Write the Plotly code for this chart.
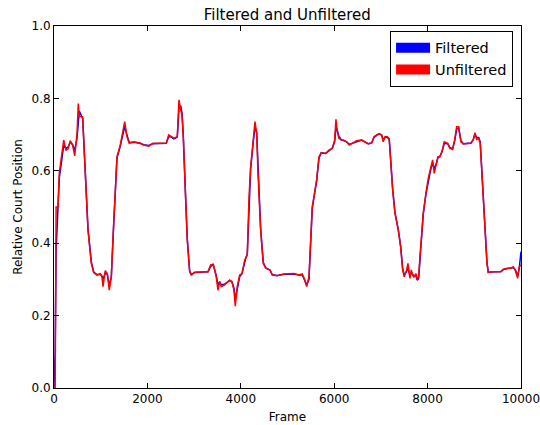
import plotly.graph_objects as go

frames = [0, 25, 45, 86, 113, 208, 257, 300, 349, 400, 443, 492, 520, 542, 614, 670, 728, 799, 850, 921,
          991, 1028, 1049, 1098, 1141, 1184, 1227, 1278, 1349, 1419, 1456, 1514, 1563, 1612, 1706, 1848,
          1920, 2028, 2120, 2404, 2456, 2511, 2569, 2640, 2676, 2713, 2741, 2768, 2811, 2854, 2905, 2940,
          3012, 3297, 3355, 3411, 3475, 3511, 3548, 3582, 3654, 3761, 3811, 3854, 3882, 3924, 3976, 4025,
          4083, 4104, 4139, 4175, 4211, 4267, 4303, 4340, 4368, 4425, 4481, 4533, 4625, 4674, 4781, 4924,
          5138, 5245, 5316, 5367, 5410, 5460, 5496, 5530, 5567, 5624, 5674, 5723, 5817, 5888, 5958, 6010,
          6038, 6066, 6102, 6151, 6194, 6267, 6322, 6408, 6481, 6588, 6659, 6729, 6802, 6851, 6909, 6965,
          7016, 7050, 7087, 7136, 7179, 7209, 7252, 7301, 7372, 7423, 7466, 7500, 7551, 7579, 7622, 7650,
          7680, 7708, 7750, 7778, 7808, 7836, 7872, 7907, 7964, 8014, 8065, 8108, 8142, 8193, 8221, 8264,
          8307, 8357, 8429, 8478, 8536, 8579, 8622, 8665, 8714, 8764, 8857, 8928, 8977, 9014, 9050, 9093,
          9127, 9163, 9200, 9234, 9271, 9299, 9356, 9463, 9570, 9620, 9714, 9784, 9834, 9877, 9928, 9962,
          10000]

unfiltered = [0.0, 0.0, 0.50, 0.50, 0.594, 0.685, 0.657, 0.66, 0.683, 0.67, 0.641, 0.70, 0.786, 0.75, 0.749,
              0.594, 0.436, 0.345, 0.319, 0.312, 0.316, 0.307, 0.28, 0.324, 0.316, 0.27, 0.307, 0.455,
              0.639, 0.671, 0.694, 0.736, 0.694, 0.676, 0.68, 0.676, 0.671, 0.668, 0.676, 0.676, 0.699,
              0.694, 0.69, 0.694, 0.796, 0.768, 0.755, 0.694, 0.547, 0.409, 0.321, 0.312, 0.32, 0.321,
              0.34, 0.342, 0.307, 0.27, 0.294, 0.28, 0.285, 0.298, 0.294, 0.27, 0.226, 0.28, 0.312, 0.316,
              0.353, 0.359, 0.368, 0.524, 0.611, 0.685, 0.736, 0.705, 0.593, 0.436, 0.344, 0.331, 0.326,
              0.312, 0.31, 0.315, 0.316, 0.312, 0.315, 0.30, 0.28, 0.307, 0.409, 0.501, 0.528, 0.575, 0.639,
              0.65, 0.648, 0.657, 0.662, 0.685, 0.742, 0.708, 0.69, 0.685, 0.685, 0.68, 0.671, 0.677, 0.683,
              0.685, 0.68, 0.674, 0.677, 0.694, 0.699, 0.703, 0.699, 0.68, 0.694, 0.694, 0.685, 0.621,
              0.547, 0.483, 0.436, 0.39, 0.326, 0.307, 0.326, 0.344, 0.303, 0.326, 0.312, 0.307, 0.316,
              0.30, 0.307, 0.363, 0.436, 0.483, 0.538, 0.579, 0.607, 0.63, 0.593, 0.626, 0.639, 0.639,
              0.653, 0.680, 0.676, 0.662, 0.659, 0.685, 0.722, 0.722, 0.68, 0.674, 0.676, 0.676, 0.685,
              0.705, 0.687, 0.69, 0.676, 0.593, 0.501, 0.409, 0.344, 0.319, 0.321, 0.321, 0.321, 0.328,
              0.331, 0.331, 0.335, 0.326, 0.303, 0.335, 0.34]

filtered = [0.0, 0.10, 0.38, 0.50, 0.58, 0.670, 0.662, 0.665, 0.680, 0.672, 0.655, 0.69, 0.750, 0.765, 0.745,
            0.600, 0.440, 0.348, 0.320, 0.313, 0.314, 0.309, 0.300, 0.318, 0.314, 0.285, 0.305, 0.450,
            0.635, 0.668, 0.690, 0.722, 0.698, 0.678, 0.679, 0.676, 0.672, 0.670, 0.675, 0.676, 0.695,
            0.693, 0.688, 0.693, 0.770, 0.780, 0.760, 0.700, 0.550, 0.412, 0.323, 0.314, 0.319, 0.321,
            0.336, 0.340, 0.310, 0.285, 0.293, 0.285, 0.287, 0.297, 0.293, 0.275, 0.245, 0.275, 0.308,
            0.316, 0.350, 0.358, 0.370, 0.515, 0.605, 0.680, 0.720, 0.706, 0.598, 0.440, 0.347, 0.332,
            0.326, 0.313, 0.311, 0.314, 0.315, 0.312, 0.313, 0.298, 0.285, 0.300, 0.400, 0.495, 0.527,
            0.572, 0.635, 0.650, 0.648, 0.656, 0.662, 0.680, 0.722, 0.712, 0.695, 0.686, 0.684, 0.680,
            0.673, 0.677, 0.682, 0.685, 0.680, 0.675, 0.677, 0.692, 0.698, 0.702, 0.699, 0.685, 0.692,
            0.693, 0.688, 0.625, 0.550, 0.485, 0.438, 0.392, 0.330, 0.312, 0.322, 0.332, 0.310, 0.320,
            0.313, 0.308, 0.312, 0.298, 0.302, 0.350, 0.430, 0.480, 0.535, 0.575, 0.603, 0.622, 0.605,
            0.622, 0.636, 0.640, 0.652, 0.676, 0.675, 0.664, 0.662, 0.682, 0.715, 0.718, 0.683, 0.675,
            0.676, 0.677, 0.686, 0.700, 0.692, 0.692, 0.680, 0.600, 0.505, 0.412, 0.348, 0.320, 0.321,
            0.321, 0.322, 0.327, 0.330, 0.331, 0.333, 0.327, 0.310, 0.330, 0.377]

x_ticks = [0, 2000, 4000, 6000, 8000, 10000]
y_ticks = [0.0, 0.2, 0.4, 0.6, 0.8, 1.0]

FONT = "DejaVu Sans"

fig = go.Figure()
fig.add_trace(go.Scatter(x=frames, y=filtered, mode="lines", name="Filtered",
                         line=dict(color="#0000ff", width=1.5), showlegend=False))
fig.add_trace(go.Scatter(x=frames, y=unfiltered, mode="lines", name="Unfiltered",
                         line=dict(color="#ff0000", width=1.5), showlegend=False))
# legend entries (patch-like)
fig.add_trace(go.Scatter(x=[None], y=[None], mode="lines", name="Filtered",
                         line=dict(color="#0000ff", width=10)))
fig.add_trace(go.Scatter(x=[None], y=[None], mode="lines", name="Unfiltered",
                         line=dict(color="#ff0000", width=10)))

axis_common = dict(
    showline=True, linecolor="black", linewidth=1, mirror="ticks",
    ticks="inside", ticklen=5, tickwidth=1, tickcolor="black",
    showgrid=False, zeroline=False, automargin=False,
    tickfont=dict(family=FONT, size=12, color="black"),
)

fig.update_layout(
    width=540, height=425,
    margin=dict(l=54, r=19, t=26, b=37),
    paper_bgcolor="white", plot_bgcolor="white",
    font=dict(family=FONT, color="black"),
    title=dict(text="Filtered and Unfiltered", x=0.532, xanchor="center",
               y=1 - 15 / 425, yanchor="middle", yref="container",
               font=dict(family=FONT, size=15, color="black")),
    xaxis=dict(range=[0, 10000], tickvals=x_ticks, ticktext=[str(v) for v in x_ticks],
               ticklabeloverflow="allow",
               title=dict(text="Frame", font=dict(family=FONT, size=12, color="black"), standoff=7),
               **axis_common),
    yaxis=dict(range=[0, 1.0], tickvals=y_ticks, ticktext=[f"{v:.1f}" for v in y_ticks],
               title=dict(text="Relative Court Position", font=dict(family=FONT, size=12, color="black"),
                          standoff=6),
               **axis_common),
    legend=dict(x=0.983, xanchor="right", y=0.987, yanchor="top",
                bgcolor="white", bordercolor="black", borderwidth=1, itemwidth=34,
                font=dict(family=FONT, size=14.5, color="black"), tracegroupgap=0),
)

fig.write_html("out.html")
